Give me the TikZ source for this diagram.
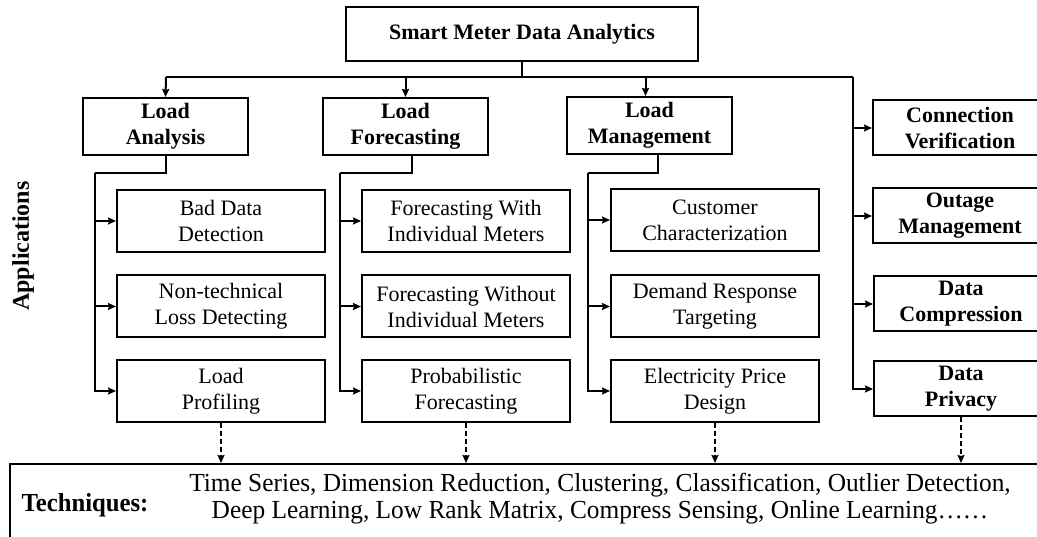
\documentclass[tikz,border=0pt]{standalone}
\usepackage{fontspec}
\setmainfont{Liberation Serif}
\newfontfamily\condfont[FakeStretch=0.975]{Liberation Serif}
\newfontfamily\condbfont[FakeStretch=0.95]{Liberation Serif Bold}
\usetikzlibrary{arrows.meta}
\begin{document}
\begin{tikzpicture}[x=1pt,y=-1pt,
  box/.style={draw, line width=2pt, inner sep=0pt, align=center, font=\fontsize{22}{26}\selectfont},
  hbox/.style={box, font=\fontsize{22}{26}\selectfont\bfseries},
  subbox/.style={box, minimum width=208pt, minimum height=62pt},
  rbox/.style={hbox, minimum width=174pt, minimum height=55pt},
  conn/.style={line width=2pt},
  arr/.style={conn, -{Stealth[length=8pt,width=7pt,inset=1pt]}},
  darr/.style={arr, dash pattern=on 5pt off 3pt}]
\useasboundingbox (0,0) rectangle (1037,537);
% top
\node[hbox, minimum width=352pt, minimum height=54pt] (top) at (522,34) {Smart Meter Data Analytics};
% second level
\node[hbox, minimum width=165pt, minimum height=57pt] (la) at (165.5,126.5) {Load\\Analysis};
\node[hbox, minimum width=165pt, minimum height=57pt] (lf) at (405.5,126.5) {Load\\Forecasting};
\node[hbox, minimum width=165pt, minimum height=57pt] (lm) at (649.5,125.5) {Load\\Management};
% right column
\node[rbox] (cv) at (960,128) {Connection\\Verification};
\node[rbox] (og) at (960,216) {Outage\\Management};
\node[rbox] (dc) at (961,304) {Data\\Compression};
\node[rbox] (dp) at (961,389) {Data\\Privacy};
% sub boxes col 1
\node[subbox] (a1) at (221,221) {Bad Data\\Detection};
\node[subbox] (a2) at (221,306.5) {Non-technical\\Loss Detecting};
\node[subbox] (a3) at (221,391) {Load\\Profiling};
% col 2
\node[subbox] (b1) at (466,221) {Forecasting With\\Individual Meters};
\node[subbox] (b2) at (466,306.5) {Forecasting Without\\Individual Meters};
\node[subbox] (b3) at (466,391) {Probabilistic\\Forecasting};
% col 3
\node[subbox] (c1) at (715,220) {Customer\\Characterization};
\node[subbox] (c2) at (715,306.5) {Demand Response\\Targeting};
\node[subbox] (c3) at (715,391) {Electricity Price\\Design};
% techniques
\node[draw, line width=2pt, minimum width=1040pt, minimum height=96pt, inner sep=0pt] (tech) at (530,512) {};
\node[font=\fontsize{26}{27}\selectfont\condbfont] (tl) at (85,505) {Techniques:};
\node[font=\fontsize{26}{27}\selectfont\condfont, align=center] (tt) at (600,499) {Time Series, Dimension Reduction, Clustering, Classification, Outlier Detection,\\Deep Learning, Low Rank Matrix, Compress Sensing, Online Learning\ldots\ldots};
% Applications label
\node[font=\fontsize{24}{26}\selectfont\bfseries, rotate=90] (app) at (23,246) {Applications};
% connectors from top
\coordinate (jL) at (166,77);
\coordinate (jR) at (853,77);
\draw[conn] (top.south) |- (jL);
\draw[conn] (top.south) |- (jR);
\draw[arr] (jL) -- (la.north);
\draw[arr] (jL -| lf.north) -- (lf.north);
\draw[arr] ([xshift=-4pt]lm.north |- jL) -- ([xshift=-4pt]lm.north);
\draw[arr] (jR) |- (dp.west);
\draw[arr] (jR |- cv.west) -- (cv.west);
\draw[arr] (jR |- og.west) -- (og.west);
\draw[arr] (jR |- dc.west) -- (dc.west);
% column trunks
\coordinate (t1) at (95,173);
\coordinate (t2) at (340,173);
\coordinate (t3) at (588,173);
\draw[conn] (la.south) |- (t1);
\draw[arr] (t1) |- (a3.west);
\draw[arr] (t1 |- a1.west) -- (a1.west);
\draw[arr] (t1 |- a2.west) -- (a2.west);
\draw[conn] ([xshift=6pt]lf.south) |- (t2);
\draw[arr] (t2) |- (b3.west);
\draw[arr] (t2 |- b1.west) -- (b1.west);
\draw[arr] (t2 |- b2.west) -- (b2.west);
\draw[conn] ([xshift=8.5pt]lm.south) |- (t3);
\draw[arr] (t3) |- (c3.west);
\draw[arr] (t3 |- c1.west) -- (c1.west);
\draw[arr] (t3 |- c2.west) -- (c2.west);
% dashed to techniques
\draw[darr] (a3.south) -- (a3.south |- tech.north);
\draw[darr] (b3.south) -- (b3.south |- tech.north);
\draw[darr] (c3.south) -- (c3.south |- tech.north);
\draw[darr] (dp.south) -- (dp.south |- tech.north);
\end{tikzpicture}
\end{document}
